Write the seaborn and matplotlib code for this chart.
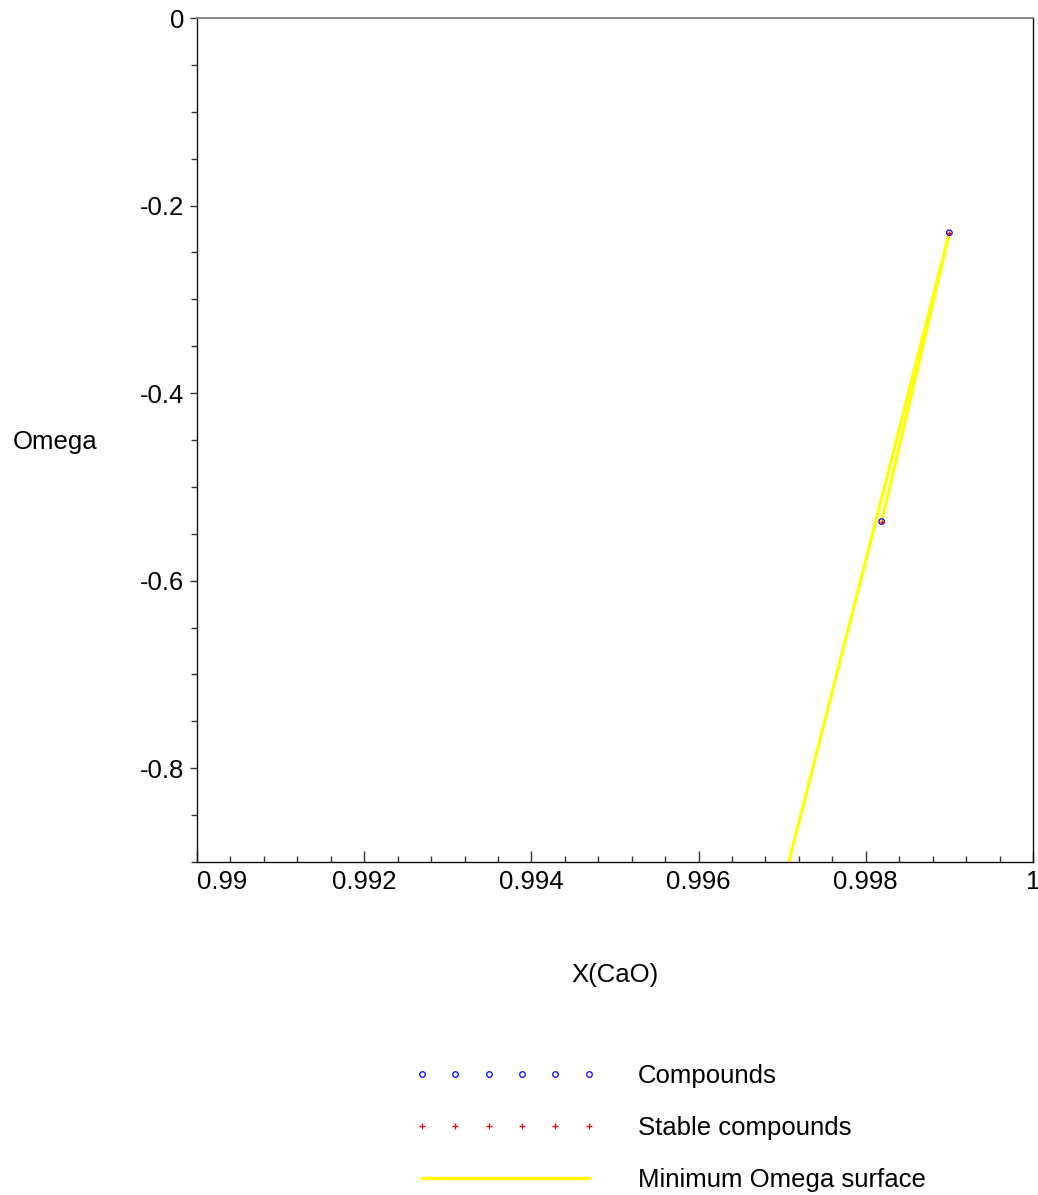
import numpy as np
import pandas as pd
import matplotlib
matplotlib.use("Agg")
import matplotlib.pyplot as plt
import matplotlib.ticker as mticker
from matplotlib.lines import Line2D
import seaborn as sns

# data
x_compounds = [0.999, 0.99819]
omega_compounds = [-0.229, -0.537]
x_stable = [0.999, 0.99819]
omega_stable = [-0.229, -0.537]
# minimum omega surface segments (second one runs off the bottom)
seg_id = [0, 0, 1, 1]
x_surface = [0.999, 0.99819, 0.999, 0.9960]
omega_surface = [-0.229, -0.537, -0.229, -1.277]

x_ticks = [0.99, 0.992, 0.994, 0.996, 0.998, 1.0]
x_tick_labels = ["0.99", "0.992", "0.994", "0.996", "0.998", "1"]
y_ticks = [0, -0.2, -0.4, -0.6, -0.8]
y_tick_labels = ["0", "-0.2", "-0.4", "-0.6", "-0.8"]

sns.set_style("ticks")
plt.rcParams["font.family"] = ["Liberation Sans", "DejaVu Sans"]
plt.rcParams["axes.unicode_minus"] = False
plt.rcParams["text.color"] = "black"
plt.rcParams["xtick.labelcolor"] = "black"
plt.rcParams["ytick.labelcolor"] = "black"

fig = plt.figure(figsize=(10.38, 11.95), dpi=100)
ax = fig.add_axes([197 / 1038, 1 - 862 / 1195, 836 / 1038, 844 / 1195])

surf = pd.DataFrame({"seg": seg_id, "x": x_surface, "omega": omega_surface})
sns.lineplot(data=surf, x="x", y="omega", units="seg", estimator=None, sort=False,
             color="#ffff00", linewidth=2.3, ax=ax, legend=False)

comp = pd.DataFrame({"x": x_compounds, "omega": omega_compounds})
stab = pd.DataFrame({"x": x_stable, "omega": omega_stable})
sns.scatterplot(data=comp, x="x", y="omega", marker="o", s=16, facecolor="none",
                edgecolor="#0000ff", linewidth=0.9, ax=ax, zorder=3)
sns.scatterplot(data=stab, x="x", y="omega", marker="+", s=12, color="#ff0000",
                linewidth=0.9, ax=ax, zorder=4)

ax.set_xlim(0.99, 1.0)
ax.set_ylim(-0.9, 0)
ax.set_xlabel("")
ax.set_ylabel("")

ax.set_xticks(x_ticks)
ax.set_xticklabels(x_tick_labels)
ax.set_yticks(y_ticks)
ax.set_yticklabels(y_tick_labels)
ax.xaxis.set_minor_locator(mticker.MultipleLocator(0.0004))
ax.yaxis.set_minor_locator(mticker.MultipleLocator(0.05))
ax.tick_params(axis="x", which="both", bottom=True, top=False)
ax.tick_params(axis="y", which="both", left=True, right=False)
ax.tick_params(axis="x", which="major", direction="in", length=8, width=1,
               color="#333333", labelsize=18.5, pad=6)
ax.tick_params(axis="x", which="minor", direction="in", length=4, width=1, color="#333333")
ax.tick_params(axis="y", which="major", direction="out", length=5, width=1,
               color="#333333", labelsize=18.5, pad=4)
ax.tick_params(axis="y", which="minor", direction="out", length=4, width=1, color="#333333")
ax.get_xticklabels()[0].set_horizontalalignment("left")

for side in ["left", "bottom", "right"]:
    ax.spines[side].set_visible(True)
    ax.spines[side].set_color("#111111")
    ax.spines[side].set_linewidth(1.0)
ax.spines["top"].set_visible(True)
ax.spines["top"].set_color("#7f7f7f")
ax.spines["top"].set_linewidth(1.3)

fig.text(13 / 1038, 1 - 442 / 1195, "Omega", fontsize=18.5, ha="left", va="center")
fig.text(615 / 1038, 1 - 975 / 1195, "X(CaO)", fontsize=18.5, ha="center", va="center")

handles = [
    Line2D([], [], linestyle="none", marker="o", markersize=4, markerfacecolor="none",
           markeredgecolor="#0000ff", markeredgewidth=0.9),
    Line2D([], [], linestyle="none", marker="+", markersize=5, color="#ff0000",
           markeredgewidth=0.9),
    Line2D([], [], color="#ffff00", linewidth=2.5),
]
labels = ["Compounds", "Stable compounds", "Minimum Omega surface"]
fig.legend(handles, labels, loc="upper left", bbox_to_anchor=(414 / 1038, 1 - 1064 / 1195),
           frameon=False, numpoints=6, handlelength=7.1, handletextpad=1.6,
           labelspacing=1.08, fontsize=18.5, borderaxespad=0, borderpad=0)

fig.savefig("out.png", dpi=100)
